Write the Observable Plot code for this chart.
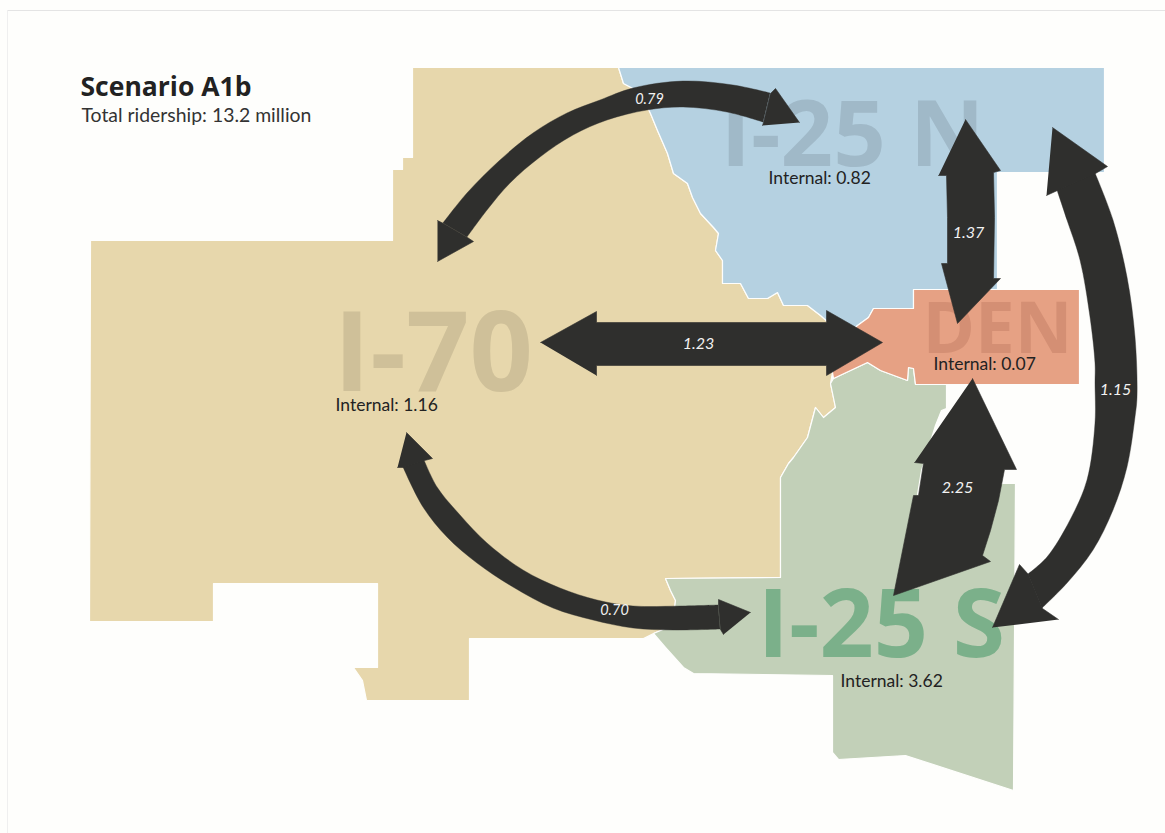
<!DOCTYPE html>
<html>
<head>
<meta charset="utf-8">
<script src="https://cdn.jsdelivr.net/npm/d3@7"></script>
<script src="https://cdn.jsdelivr.net/npm/@observablehq/plot@0.6"></script>
<style>
html,body{margin:0;padding:0;background:#fff;overflow:hidden}
svg{display:block;background:transparent}
</style>
</head>
<body>
<div id="chart"></div>
<script>
const regionI70 = [[412,67],[618,67],[623,83],[640,92],[650,113],[657,130],[667,153],[673,173],[687,183],[692,197],[700,213],[713,227],[718,233],[715,250],[722,260],[722,283],[740,283],[748,298],[767,298],[777,292],[783,305],[807,305],[820,315],[828,322],[832,372],[830,383],[835,407],[823,417],[815,407],[807,437],[793,457],[788,463],[780,477],[780,577],[665,578],[670,590],[675,600],[672,625],[653,633],[643,638],[469,638],[469,700],[366,700],[362,680],[353,667],[377,667],[377,583],[213,583],[213,621],[89,621],[90,240],[392,240],[392,169],[402,169],[402,157],[412,157],[412,67]];
const regionN = [[618,67],[1104,67],[1104,172],[997,172],[997,289],[913,289],[913,308],[873,308],[868,317],[857,325],[835,345],[828,322],[820,315],[807,305],[783,305],[777,292],[767,298],[748,298],[740,283],[722,283],[722,260],[715,250],[718,233],[713,227],[700,213],[692,197],[687,183],[673,173],[667,153],[657,130],[650,113],[640,92],[623,83],[618,67]];
const regionDEN = [[913,289],[1079,289],[1079,384],[915,384],[913,368],[908,367],[907,380],[880,370],[867,362],[833,378],[832,372],[835,345],[857,325],[868,317],[873,308],[913,308],[913,289]];
const regionS = [[946,384],[946,408],[941,410],[935,425],[921,470],[917,494],[1003,483],[1015,483],[1013,790],[905,755],[838,759],[832,752],[832,675],[693,673],[683,667],[665,647],[653,633],[672,625],[675,600],[670,590],[665,578],[780,577],[780,477],[788,463],[793,457],[807,437],[815,407],[823,417],[835,407],[830,383],[833,378],[867,362],[880,370],[907,380],[908,367],[913,368],[915,384],[946,384]];

const shaft079Outer = [[770,93],[733,85],[683,81],[633,88],[600,100],[567,113],[533,133],[500,160],[467,193],[443,223]];
const shaft079Inner = [[763,122],[727,112],[683,107],[647,110],[607,120],[573,135],[540,157],[510,183],[487,210],[467,237]];
const head079a = [[799,122],[775,88],[770,93],[763,122],[762,125]];
const head079b = [[437,261],[473,241],[467,237],[443,223],[437,220]];

const shaft115Outer = [[1095,173],[1113,220],[1127,277],[1135,337],[1137,397],[1135,417],[1127,467],[1113,510],[1093,550],[1067,583],[1042,608]];
const shaft115Inner = [[1057,190],[1067,220],[1080,260],[1090,317],[1095,363],[1095,383],[1095,423],[1087,480],[1070,520],[1047,557],[1028,574]];
const head115a = [[1052,127],[1107,166],[1095,173],[1057,190],[1046,195]];
const head115b = [[992,627],[1019,564],[1028,574],[1042,608],[1058,619]];

const shaft070Outer = [[403,467],[423,507],[447,537],[477,563],[513,587],[553,608],[593,620],[633,628],[673,630],[720,629]];
const shaft070Inner = [[424,460],[437,487],[460,515],[487,543],[523,570],[560,588],[597,600],[633,606],[680,606],[718,605]];
const head070a = [[406,432],[432,458],[424,460],[403,467],[397,467]];
const head070b = [[750,612],[718,599],[718,605],[720,629],[723,634]];

const arrow123 = [[540,342],[596,311],[596,322],[826,322],[826,310],[882,342],[826,375],[826,365],[596,365],[596,375]];
const arrow137 = [[965,119],[1000,170],[993,172],[994,217],[993,278],[1000,278],[957,323],[941,263],[947,263],[947,217],[946,175],[938,175]];
const arrow225 = [[972,378],[1016,469],[1004,469],[998,500],[990,530],[982,555],[990,561],[893,595],[913,495],[918,495],[923,463],[914,462]];

const bigNames = ["I-70","I-25 N","DEN","I-25 S"];
const bigX = [333,720,922,757];
const bigY = [390,165,352,656];
const bigSize = [111,92,71,95];
const bigColors = ["#cfc099","#a0b9c8","#d48f74","#7bb08a"];

const internalNames = ["Internal: 1.16","Internal: 0.82","Internal: 0.07","Internal: 3.62"];
const internalX = [335,768,933,840];
const internalY = [410,183,369,686];

const flowNames = ["0.79","1.23","1.37","2.25","1.15","0.70"];
const flowX = [649,698,968,957,1115,614];
const flowY = [99,343,232,487,389,610];
const flowSize = [14.5,16,16,16,16,14.5];

const frameTop = [[7,10],[1165,10]];
const frameLeft = [[7,10],[7,833]];

const pgBg = "#fefefc";
const dark = "#2f2f2d";
const xOf = d => d[0], yOf = d => d[1];
const poly = (pts, fill, stroke = "none", strokeWidth = 0) =>
  Plot.line(pts, {x: xOf, y: yOf, fill, stroke, strokeWidth, strokeLinejoin: "round", curve: "linear"});
const head = pts => poly(pts, dark, dark, 0.6);
const shaft = (a, b) =>
  Plot.area(a.map((p, i) => ({x1: p[0], y1: p[1], x2: b[i][0], y2: b[i][1]})),
    {x1: "x1", y1: "y1", x2: "x2", y2: "y2", fill: dark, stroke: dark, strokeWidth: 0.4, curve: "catmull-rom"});
const zip = (names, xs, ys, extra = []) => names.map((n, i) => ({n, x: xs[i], y: ys[i], s: extra[i], c: i}));
const font = "Lato, 'Open Sans', sans-serif";
const headFont = "'Open Sans', sans-serif";

const plot = Plot.plot({
  width: 1165, height: 833,
  margin: 0, marginTop: 0, marginRight: 0, marginBottom: 0, marginLeft: 0,
  x: {domain: [0, 1165], range: [0, 1165], axis: null},
  y: {domain: [0, 833], range: [0, 833], axis: null},
  style: {background: pgBg},
  marks: [
    Plot.line(frameTop, {x: xOf, y: yOf, stroke: "#e4e4e4", strokeWidth: 1}),
    Plot.line(frameLeft, {x: xOf, y: yOf, stroke: "#efefef", strokeWidth: 1}),
    poly(regionI70, "#e7d7ac", pgBg, 1.2),
    poly(regionN, "#b5d1e1", pgBg, 1.2),
    poly(regionS, "#c2d0b8", pgBg, 1.2),
    poly(regionDEN, "#e6a184", pgBg, 1.2),
    ...zip(bigNames, bigX, bigY, bigSize).map(d =>
      Plot.text([d], {x: "x", y: "y", text: "n", textAnchor: "start", lineAnchor: "bottom",
        fontSize: d.s, fontWeight: 700, fontFamily: headFont, fill: bigColors[d.c]})),
    shaft(shaft079Outer, shaft079Inner), head(head079a), head(head079b),
    shaft(shaft115Outer, shaft115Inner), head(head115a), head(head115b),
    shaft(shaft070Outer, shaft070Inner), head(head070a), head(head070b),
    head(arrow123),
    head(arrow137),
    head(arrow225),
    Plot.text(zip(internalNames, internalX, internalY), {x: "x", y: "y", text: "n", textAnchor: "start", lineAnchor: "bottom",
      fontSize: 17.5, fontFamily: font, fill: "#222"}),
    ...zip(flowNames, flowX, flowY, flowSize).map(d =>
      Plot.text([d], {x: "x", y: "y", text: "n", textAnchor: "middle", lineAnchor: "middle",
        fontSize: d.s, fontStyle: "italic", fontFamily: font, fill: "#f2f2f2"})),
    Plot.text(["Scenario A1b"], {x: 80, y: 95, text: d => d, textAnchor: "start", lineAnchor: "bottom",
      fontSize: 26.5, fontWeight: 700, fontFamily: headFont, fill: "#222"}),
    Plot.text(["Total ridership: 13.2 million"], {x: 81, y: 121, text: d => d, textAnchor: "start", lineAnchor: "bottom",
      fontSize: 19.4, fontFamily: font, fill: "#333"})
  ]
});
document.getElementById("chart").append(plot);
</script>
</body>
</html>
